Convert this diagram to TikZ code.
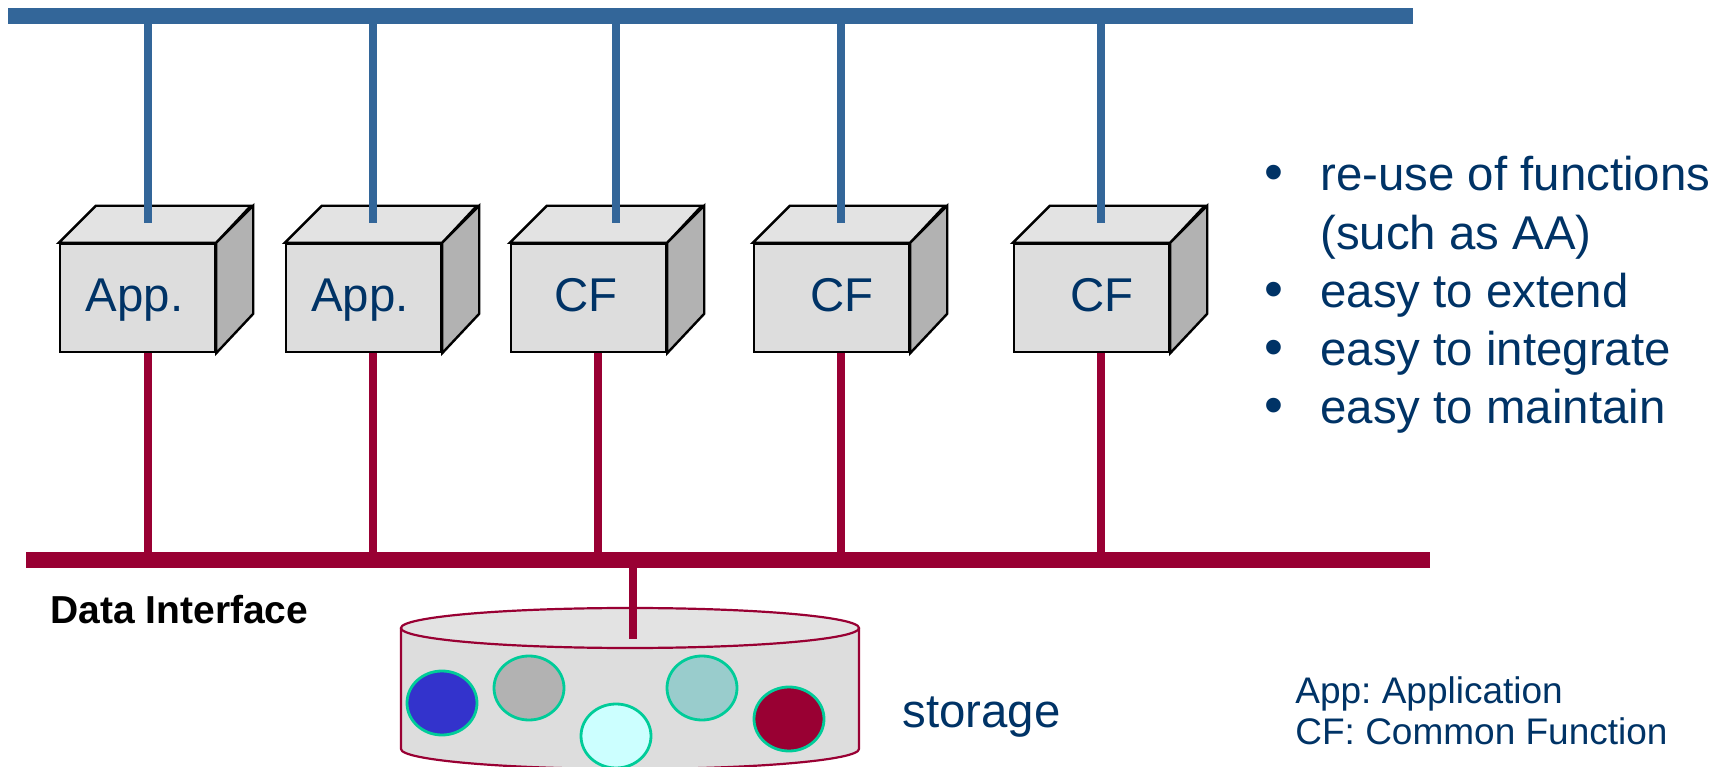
\documentclass[tikz,border=0pt]{standalone}
\usepackage{fontspec}
\setmainfont{Liberation Sans}
\frenchspacing

\definecolor{busblue}{HTML}{336699}
\definecolor{busred}{HTML}{990033}
\definecolor{navy}{HTML}{003366}
\definecolor{frontgray}{HTML}{DDDDDD}
\definecolor{topgray}{HTML}{E3E3E3}
\definecolor{sidegray}{HTML}{B2B2B2}
\definecolor{ringgreen}{HTML}{00CC99}
\definecolor{diskblue}{HTML}{3333CC}
\definecolor{diskgray}{HTML}{B2B2B2}
\definecolor{diskcyan}{HTML}{CCFFFF}
\definecolor{diskteal}{HTML}{99CCCC}
\definecolor{diskred}{HTML}{990033}

\tikzset{
  bus/.style={line width=8pt, line cap=butt},
  wire/.style={line width=4pt, line cap=butt},
  cube/.style={draw=black, line width=1.2pt, fill=frontgray, minimum width=77.5pt, minimum height=54pt, inner sep=0pt},
  face/.style={draw=black, line width=1.2pt, line join=miter},
  bigtext/.style={font=\fontsize{23.7}{29}\selectfont, text=navy, inner sep=0pt},
  smalltext/.style={font=\fontsize{18.5}{21}\selectfont, text=navy, inner sep=0pt},
  disk/.style={draw=ringgreen, line width=1.4pt}
}

\begin{document}
\begin{tikzpicture}[x=0.5pt, y=0.5pt]
  \useasboundingbox (0,0) rectangle (1729,766);
  % the two buses
  \coordinate (topL) at (8,750);
  \coordinate (topR) at (1413,750);
  \coordinate (botL) at (26,206);
  \coordinate (botR) at (1430,206);
  \draw[bus, busblue] (topL) -- (topR);
  \draw[bus, busred] (botL) -- (botR);
  % boxes
  \foreach \i/\lx/\txt/\tx/\up/\dn in {1/60/App./134.5/148/148, 2/286/App./360/373/373, 3/511/CF/586/616/598, 4/754/CF/842/841/841, 5/1014/CF/1102/1101/1101}{
    \node[cube] (b\i) at (\lx+77.5,468) {};
    \draw[face, fill=topgray] (b\i.north west) -- ++(37,37) -- ++(155,0) -- (b\i.north east) -- cycle;
    \draw[face, fill=sidegray] (b\i.north east) -- ++(37,37) -- ++(0,-108) -- (b\i.south east) -- cycle;
    \node[bigtext, anchor=base] (l\i) at (\tx,454) {\txt};
    \coordinate (u\i) at (\up,750);
    \coordinate (t\i) at (\up,543);
    \coordinate (d\i) at (\dn,206);
    \draw[wire, busblue] (u\i) -- (t\i);
    \draw[wire, busred] (b\i.south -| d\i) -- (d\i);
  }
  % storage
  \fill[frontgray] (401,138) -- (401,17) arc[start angle=180, end angle=360, x radius=229, y radius=20] -- (859,138) -- cycle;
  \draw[busred, line width=1.1pt] (401,138) -- (401,17) arc[start angle=180, end angle=360, x radius=229, y radius=20] -- (859,138);
  \draw[busred, line width=1.1pt, fill=topgray] (630,138) ellipse[x radius=229, y radius=20];
  \coordinate (stTop) at (633,206);
  \coordinate (st) at (633,127);
  \draw[wire, busred] (stTop) -- (st);
  \foreach \cx/\cy/\col in {442/63/diskblue, 529/78/diskgray, 616/30/diskcyan, 702/78/diskteal, 789/47/diskred}
    \draw[disk, fill=\col] (\cx,\cy) ellipse[x radius=35, y radius=32];
  \node[bigtext, anchor=base west] (stor) at (902,39) {storage};
  \node[font=\fontsize{19.5}{23}\selectfont\bfseries, inner sep=0pt, anchor=base west] (di) at (50,142) {Data Interface};
  % bullet list
  \foreach \k/\yy/\txt in {1/575/re-use of functions, 2/516/(such as AA), 3/458/easy to extend, 4/400/easy to integrate, 5/342/easy to maintain}
    \node[bigtext, anchor=base west] (p\k) at (1320,\yy) {\txt};
  \foreach \k in {1,3,4,5}
    \node[bigtext, font=\fontsize{27}{29}\selectfont, anchor=base west] (m\k) at (1264,0 |- p\k.base) {•};
  % legend
  \node[smalltext, anchor=base west] (leg1) at (1295,63) {App: Application};
  \node[smalltext, anchor=base west] (leg2) at (1295,22) {CF: Common Function};
\end{tikzpicture}
\end{document}
